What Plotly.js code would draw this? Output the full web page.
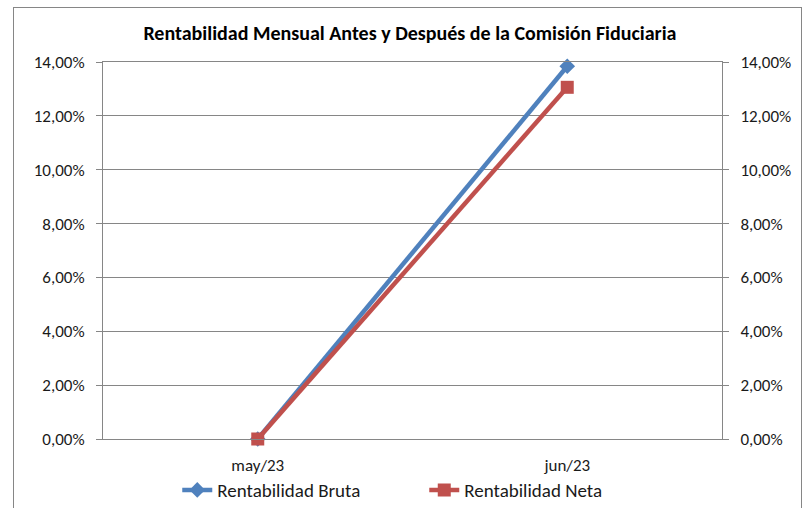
<!DOCTYPE html>
<html>
<head>
<meta charset="utf-8">
<script src="https://cdn.plot.ly/plotly-3.0.1.min.js"></script>
<style>
html,body{margin:0;padding:0;background:#fff;}
#wrap{position:relative;width:807px;height:508px;overflow:hidden;}
#chart{position:absolute;left:0;top:0;width:807px;height:508px;}
#frame{position:absolute;left:13px;top:7px;width:787px;height:520px;border:1px solid #868686;pointer-events:none;}
</style>
</head>
<body>
<div id="wrap"><div id="chart"></div><div id="frame"></div></div>
<script>
const categories = ["may/23", "jun/23"];
const rentabilidadBruta = [0.0, 0.1384];
const rentabilidadNeta = [0.0, 0.1306];
const seriesNames = ["Rentabilidad Bruta", "Rentabilidad Neta"];
const chartTitle = "Rentabilidad Mensual Antes y Después de la Comisión Fiduciaria";

const FONT = "Carlito, Lato, 'Open Sans', sans-serif";
const GRID = "#868686";
const TXT = "#1a1a1a";

const traces = [
  {
    x: categories, y: rentabilidadBruta, name: seriesNames[0], type: "scatter", mode: "lines+markers",
    cliponaxis: false,
    line: {color: "#4F81BD", width: 4.5}, marker: {symbol: "diamond", size: 12, color: "#4F81BD"}
  },
  {
    x: categories, y: rentabilidadNeta, name: seriesNames[1], type: "scatter", mode: "lines+markers",
    cliponaxis: false,
    line: {color: "#C0504D", width: 4.5}, marker: {symbol: "square", size: 13, color: "#C0504D"}
  },
  {
    x: categories, y: rentabilidadBruta, yaxis: "y2", type: "scatter", mode: "none",
    showlegend: false, hoverinfo: "skip"
  }
];

const yCommon = {
  range: [0, 0.14], dtick: 0.02, tick0: 0, tickformat: ".2%",
  showline: true, linecolor: GRID, linewidth: 1,
  ticks: "outside", ticklen: 6, tickcolor: GRID, tickwidth: 1,
  ticklabelstandoff: 8,
  tickfont: {family: FONT, size: 17, color: TXT},
  zeroline: false, fixedrange: true
};

const layout = {
  width: 807, height: 508,
  margin: {l: 103, r: 85, t: 62, b: 69, pad: 0, autoexpand: false},
  paper_bgcolor: "#fff", plot_bgcolor: "#fff",
  separators: ",.",
  title: {text: "<b>" + chartTitle + "</b>", x: 0.508, xanchor: "center", y: 0.935, yanchor: "middle",
          font: {family: FONT, size: 20, color: "#000"}},
  xaxis: {
    type: "category", range: [-0.5, 1.5],
    showline: true, linecolor: GRID, linewidth: 1, mirror: true,
    ticks: "", showgrid: false, ticklabelstandoff: 11,
    tickfont: {family: FONT, size: 17, color: TXT}
  },
  yaxis: Object.assign({}, yCommon, {showgrid: true, gridcolor: GRID, gridwidth: 1}),
  yaxis2: Object.assign({}, yCommon, {overlaying: "y", side: "right", showgrid: false}),
  showlegend: true,
  legend: {orientation: "h", x: 0.519, xanchor: "center", y: -0.085, yanchor: "top",
           bgcolor: "rgba(0,0,0,0)",
           font: {family: FONT, size: 19, color: TXT}, traceorder: "normal",
           entrywidth: 202, entrywidthmode: "pixels", tracegroupgap: 0},
  hovermode: false
};

Plotly.newPlot("chart", traces, layout, {staticPlot: true, displayModeBar: false});
</script>
</body>
</html>
